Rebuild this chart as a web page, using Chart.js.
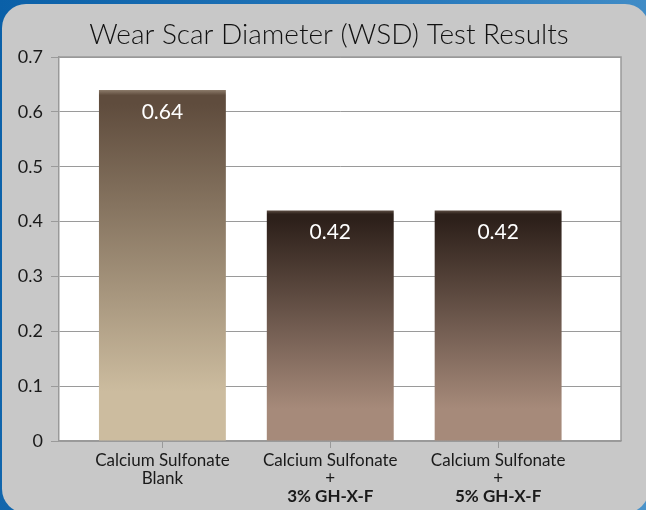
<!DOCTYPE html>
<html>
<head>
<meta charset="utf-8">
<script src="https://cdn.jsdelivr.net/npm/chart.js@4.4.0/dist/chart.umd.min.js"></script>
<style>
  body { margin: 0; width: 646px; height: 510px; overflow: hidden;
         background: linear-gradient(100deg, #0a60a8 0%, #2a7bbd 60%, #4a93ca 100%); }
  #panel { position: absolute; left: 2px; top: 4px; width: 647px; height: 509px;
           border-radius: 24px; background: #c8c8c8; }
  #wsdChart { position: absolute; left: 0; top: 0; }
</style>
</head>
<body>
<div id="panel"></div>
<canvas id="wsdChart" width="646" height="510"></canvas>
<script>
//******** Data ********
const chartTitle = 'Wear Scar Diameter (WSD) Test Results';
const categories = ['Calcium Sulfonate', 'Calcium Sulfonate', 'Calcium Sulfonate'];
const secondLines = ['Blank', '+', '+'];
const additives = ['', '3% GH-X-F', '5% GH-X-F'];
const wsdValues = [0.64, 0.42, 0.42];
const yTicks = [0, 0.1, 0.2, 0.3, 0.4, 0.5, 0.6, 0.7];

// top / bottom colours of each bar gradient
const barTops = ['#5f4c3d', '#2d201a', '#2d201a'];
const barShine = ['#8d7c6b', '#5b4b41', '#5b4b41'];
const barBottoms = ['#ccbc9f', '#a68a7a', '#a68a7a'];

const points = wsdValues.map((v, i) => ({ x: i + 1, y: v }));

//******** Gradient for each bar ********
function barGradient(context) {
  const chart = context.chart;
  const area = chart.chartArea;
  const i = context.dataIndex;
  if (!area || !chart.scales.y) return barBottoms[i];
  const top = chart.scales.y.getPixelForValue(wsdValues[i]);
  const bottom = chart.scales.y.getPixelForValue(0);
  const g = chart.ctx.createLinearGradient(0, top, 0, bottom);
  g.addColorStop(0, barShine[i]);
  g.addColorStop(0.015, barTops[i]);
  g.addColorStop(0.04, barTops[i]);
  g.addColorStop(0.86, barBottoms[i]);
  g.addColorStop(1, barBottoms[i]);
  return g;
}

//******** Plot background, border, labels ********
const extras = {
  id: 'extras',
  beforeDraw(chart) {
    const { ctx, chartArea: a } = chart;
    ctx.save();
    ctx.fillStyle = '#ffffff';
    ctx.fillRect(a.left, a.top, a.right - a.left, a.bottom - a.top);
    // title
    ctx.fillStyle = '#111111';
    ctx.font = '300 28px Lato';
    ctx.textAlign = 'center';
    ctx.textBaseline = 'middle';
    ctx.fillText(chartTitle, 329, 35);
    ctx.restore();
  },
  afterDatasetsDraw(chart) {
    const ctx = chart.ctx;
    const bars = chart.getDatasetMeta(0).data;
    ctx.save();
    ctx.fillStyle = '#ffffff';
    ctx.font = '21px Lato';
    ctx.textAlign = 'center';
    ctx.textBaseline = 'middle';
    bars.forEach((bar, i) => {
      ctx.fillText(wsdValues[i].toFixed(2), bar.x, bar.y + 22);
    });
    ctx.restore();
  },
  afterDraw(chart) {
    const { ctx, chartArea: a } = chart;
    const x = chart.scales.x;
    ctx.save();
    // top and right border of the plot
    ctx.strokeStyle = '#999999';
    ctx.lineWidth = 1.5;
    ctx.beginPath();
    ctx.moveTo(a.left, a.top);
    ctx.lineTo(a.right, a.top);
    ctx.lineTo(a.right, a.bottom);
    ctx.stroke();
    // category labels
    ctx.fillStyle = '#1a1a1a';
    ctx.textAlign = 'center';
    ctx.textBaseline = 'middle';
    categories.forEach((c, i) => {
      const px = x.getPixelForValue(i + 1);
      ctx.font = '17px Lato';
      ctx.fillText(c, px, a.bottom + 20);
      ctx.fillText(secondLines[i], px, a.bottom + 38);
      ctx.font = 'bold 17px Lato';
      ctx.fillText(additives[i], px, a.bottom + 56);
    });
    ctx.restore();
  }
};

//******** Chart ********
const ctx = document.getElementById('wsdChart').getContext('2d');
const wsdChart = new Chart(ctx, {
  type: 'bar',
  data: {
    datasets: [{
      data: points,
      backgroundColor: barGradient,
      borderWidth: 0,
      categoryPercentage: 1,
      barPercentage: 0.756
    }]
  },
  options: {
    responsive: false,
    animation: false,
    layout: { padding: { left: 0, right: 25, top: 57, bottom: 0 } },
    plugins: {
      legend: { display: false },
      tooltip: { enabled: false }
    },
    scales: {
      x: {
        type: 'linear',
        offset: false,
        min: 0.384,
        max: 3.732,
        afterBuildTicks: (scale) => {
          scale.ticks = categories.map((c, i) => ({ value: i + 1 }));
        },
        afterFit: (scale) => { scale.height = 69; },
        ticks: { display: false },
        grid: { offset: false, drawOnChartArea: false, color: '#999999', tickLength: 7 },
        border: { color: '#999999', width: 1.5 }
      },
      y: {
        min: 0,
        max: 0.7,
        afterBuildTicks: (scale) => {
          scale.ticks = yTicks.map(v => ({ value: v }));
        },
        afterFit: (scale) => { scale.width = 59; },
        ticks: {
          color: '#1a1a1a',
          padding: 8,
          font: { family: 'Lato', size: 18 },
          callback: (v) => v === 0 ? '0' : v.toFixed(1)
        },
        grid: { color: '#9a9a9a', tickLength: 8 },
        border: { color: '#999999', width: 1.5 }
      }
    }
  },
  plugins: [extras]
});
</script>
</body>
</html>
